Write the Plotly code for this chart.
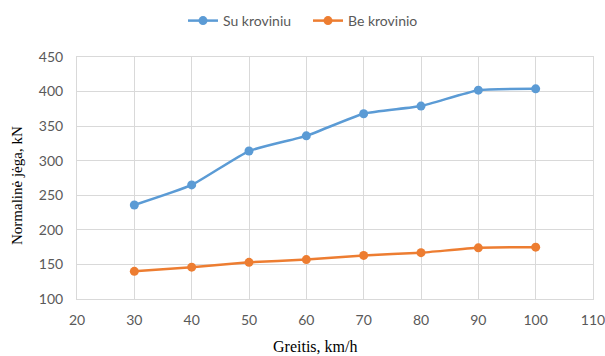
import plotly.graph_objects as go

# Speed (km/h) and normal force (kN) for loaded / unloaded vehicle
speed = [30, 40, 50, 60, 70, 80, 90, 100]
su_kroviniu = [236, 265, 314, 336, 368, 379, 402, 404]
be_krovinio = [140, 146, 153, 157, 163, 167, 174, 175]

x_ticks = [20, 30, 40, 50, 60, 70, 80, 90, 100, 110]
y_ticks = [100, 150, 200, 250, 300, 350, 400, 450]

tick_font = dict(family="Lato, Open Sans, sans-serif", size=14, color="#595959")
serif = "Liberation Serif, Times New Roman, serif"

fig = go.Figure()
fig.add_trace(go.Scatter(
    x=speed, y=su_kroviniu, name="Su kroviniu", mode="lines+markers",
    line=dict(color="#5B9BD5", width=2.5, shape="spline", smoothing=0.5),
    marker=dict(color="#5B9BD5", size=9),
))
fig.add_trace(go.Scatter(
    x=speed, y=be_krovinio, name="Be krovinio", mode="lines+markers",
    line=dict(color="#ED7D31", width=2.5, shape="spline", smoothing=0.5),
    marker=dict(color="#ED7D31", size=9),
))

fig.update_layout(
    width=605, height=356,
    margin=dict(l=77, r=12, t=57, b=57, autoexpand=False),
    paper_bgcolor="white", plot_bgcolor="white",
    legend=dict(orientation="h", x=(183 - 77) / 516, xanchor="left", xref="paper",
                y=1 - 21 / 356, yanchor="middle", yref="container",
                font=dict(family="Lato, Open Sans, sans-serif", size=14, color="#595959"),
                entrywidth=80, entrywidthmode="pixels", itemwidth=30,
                bgcolor="rgba(0,0,0,0)"),
    showlegend=True,
)

fig.update_xaxes(
    range=[20, 110], tickvals=x_ticks, ticktext=[str(v) for v in x_ticks],
    showgrid=True, gridcolor="#D9D9D9", gridwidth=1,
    showline=True, linecolor="#D9D9D9", linewidth=1, mirror=True,
    zeroline=False, ticks="", tickfont=tick_font, ticklabelstandoff=8,
    automargin=False, ticklabeloverflow="allow",
)
fig.update_yaxes(
    range=[100, 450], tickvals=y_ticks, ticktext=[str(v) for v in y_ticks],
    showgrid=True, gridcolor="#D9D9D9", gridwidth=1,
    showline=True, linecolor="#D9D9D9", linewidth=1, mirror=True,
    zeroline=False, ticks="", tickfont=tick_font, ticklabelstandoff=10,
    automargin=False, ticklabeloverflow="allow",
)

# Axis titles placed as annotations in pixel-based paper coordinates
fig.add_annotation(
    text="Greitis, km/h", xref="paper", yref="paper",
    x=(315 - 77) / 516, y=-(346 - 299) / 242, xanchor="center", yanchor="middle",
    showarrow=False, font=dict(family=serif, size=16, color="#000000"),
)
fig.add_annotation(
    text="Normalinė jėga, kN", xref="paper", yref="paper",
    x=-(77 - 17) / 516, y=(299 - 186) / 242, xanchor="center", yanchor="middle",
    textangle=-90, showarrow=False, font=dict(family=serif, size=15, color="#000000"),
)

fig.write_html("out.html")
